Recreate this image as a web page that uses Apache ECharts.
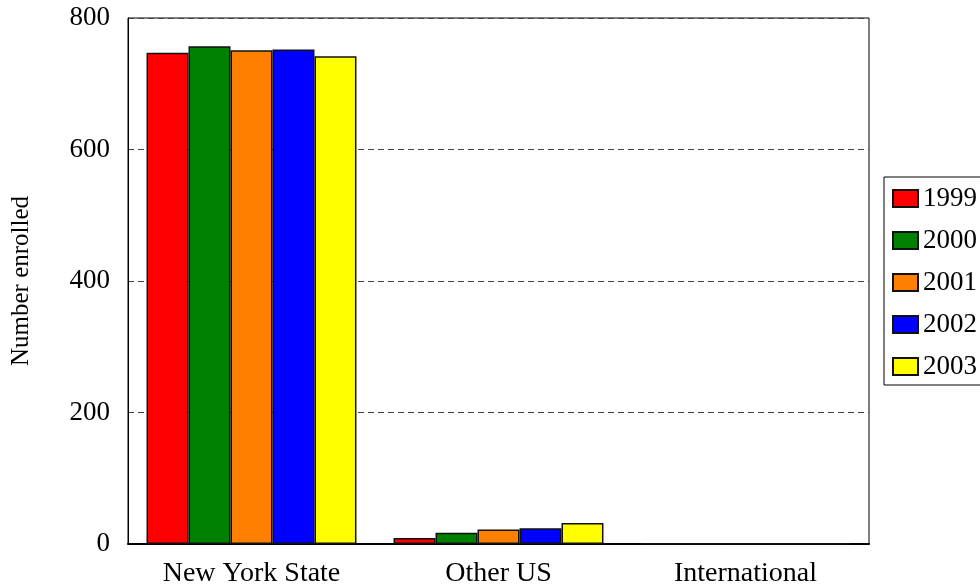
<!DOCTYPE html>
<html>
<head>
<meta charset="utf-8">
<script src="https://cdn.jsdelivr.net/npm/echarts@6/dist/echarts.min.js"></script>
<style>
  html, body { margin: 0; padding: 0; background: #fff; }
  #chart { width: 980px; height: 586px; }
</style>
</head>
<body>
<div id="chart"></div>
<script>
var categories = ["New York State", "Other US", "International"];
var years = ["1999", "2000", "2001", "2002", "2003"];
var y1999 = [747, 9, 1];
var y2000 = [757, 17, 1];
var y2001 = [751, 22, 1];
var y2002 = [752, 24, 1];
var y2003 = [742, 32, 1];
var yTicks = [0, 200, 400, 600, 800];

var colors = ["#ff0000", "#008000", "#ff8000", "#0000ff", "#ffff00"];
var seriesData = [y1999, y2000, y2001, y2002, y2003];
var font = "'Liberation Serif', 'Times New Roman', serif";

var chart = echarts.init(document.getElementById("chart"));

chart.setOption({
  animation: false,
  backgroundColor: "#fff",
  textStyle: { fontFamily: font, color: "#000" },
  grid: {
    left: 128,
    right: 111,
    top: 18,
    bottom: 42,
    outerBoundsMode: "none",
    containLabel: false,
    show: true,
    borderColor: "#000",
    borderWidth: 1,
  },
  legend: {
    orient: "vertical",
    left: 884,
    top: 177,
    padding: [8, 8, 5, 8],
    itemGap: 15,
    itemWidth: 25,
    itemHeight: 17,
    icon: "rect",
    borderColor: "#000",
    borderWidth: 1,
    data: years,
    textStyle: {
      fontFamily: font,
      fontSize: 27,
      lineHeight: 27,
      color: "#000",
    },
  },
  xAxis: {
    type: "category",
    data: categories,
    axisTick: { show: false },
    axisLine: { lineStyle: { color: "#000", width: 2 } },
    axisLabel: {
      fontFamily: font,
      fontSize: 28,
      color: "#000",
      margin: 16,
    },
  },
  yAxis: {
    type: "value",
    min: yTicks[0],
    max: yTicks[yTicks.length - 1],
    interval: 200,
    name: "Number enrolled",
    nameLocation: "middle",
    nameGap: 94,
    nameTextStyle: { fontFamily: font, fontSize: 25, color: "#000" },
    axisLine: { show: true, lineStyle: { color: "#000" } },
    axisTick: { show: false },
    axisLabel: {
      fontFamily: font,
      fontSize: 27,
      color: "#000",
      margin: 18,
    },
    splitLine: {
      show: true,
      lineStyle: { color: "#444", type: [6, 4], width: 1 },
    },
  },
  series: years.map(function (y, i) {
    return {
      name: y,
      type: "bar",
      data: seriesData[i],
      barGap: "0%",
      barCategoryGap: "15%",
      itemStyle: {
        color: colors[i],
        borderColor: "#111",
        borderWidth: 1.5,
      },
    };
  }),
});
</script>
</body>
</html>
